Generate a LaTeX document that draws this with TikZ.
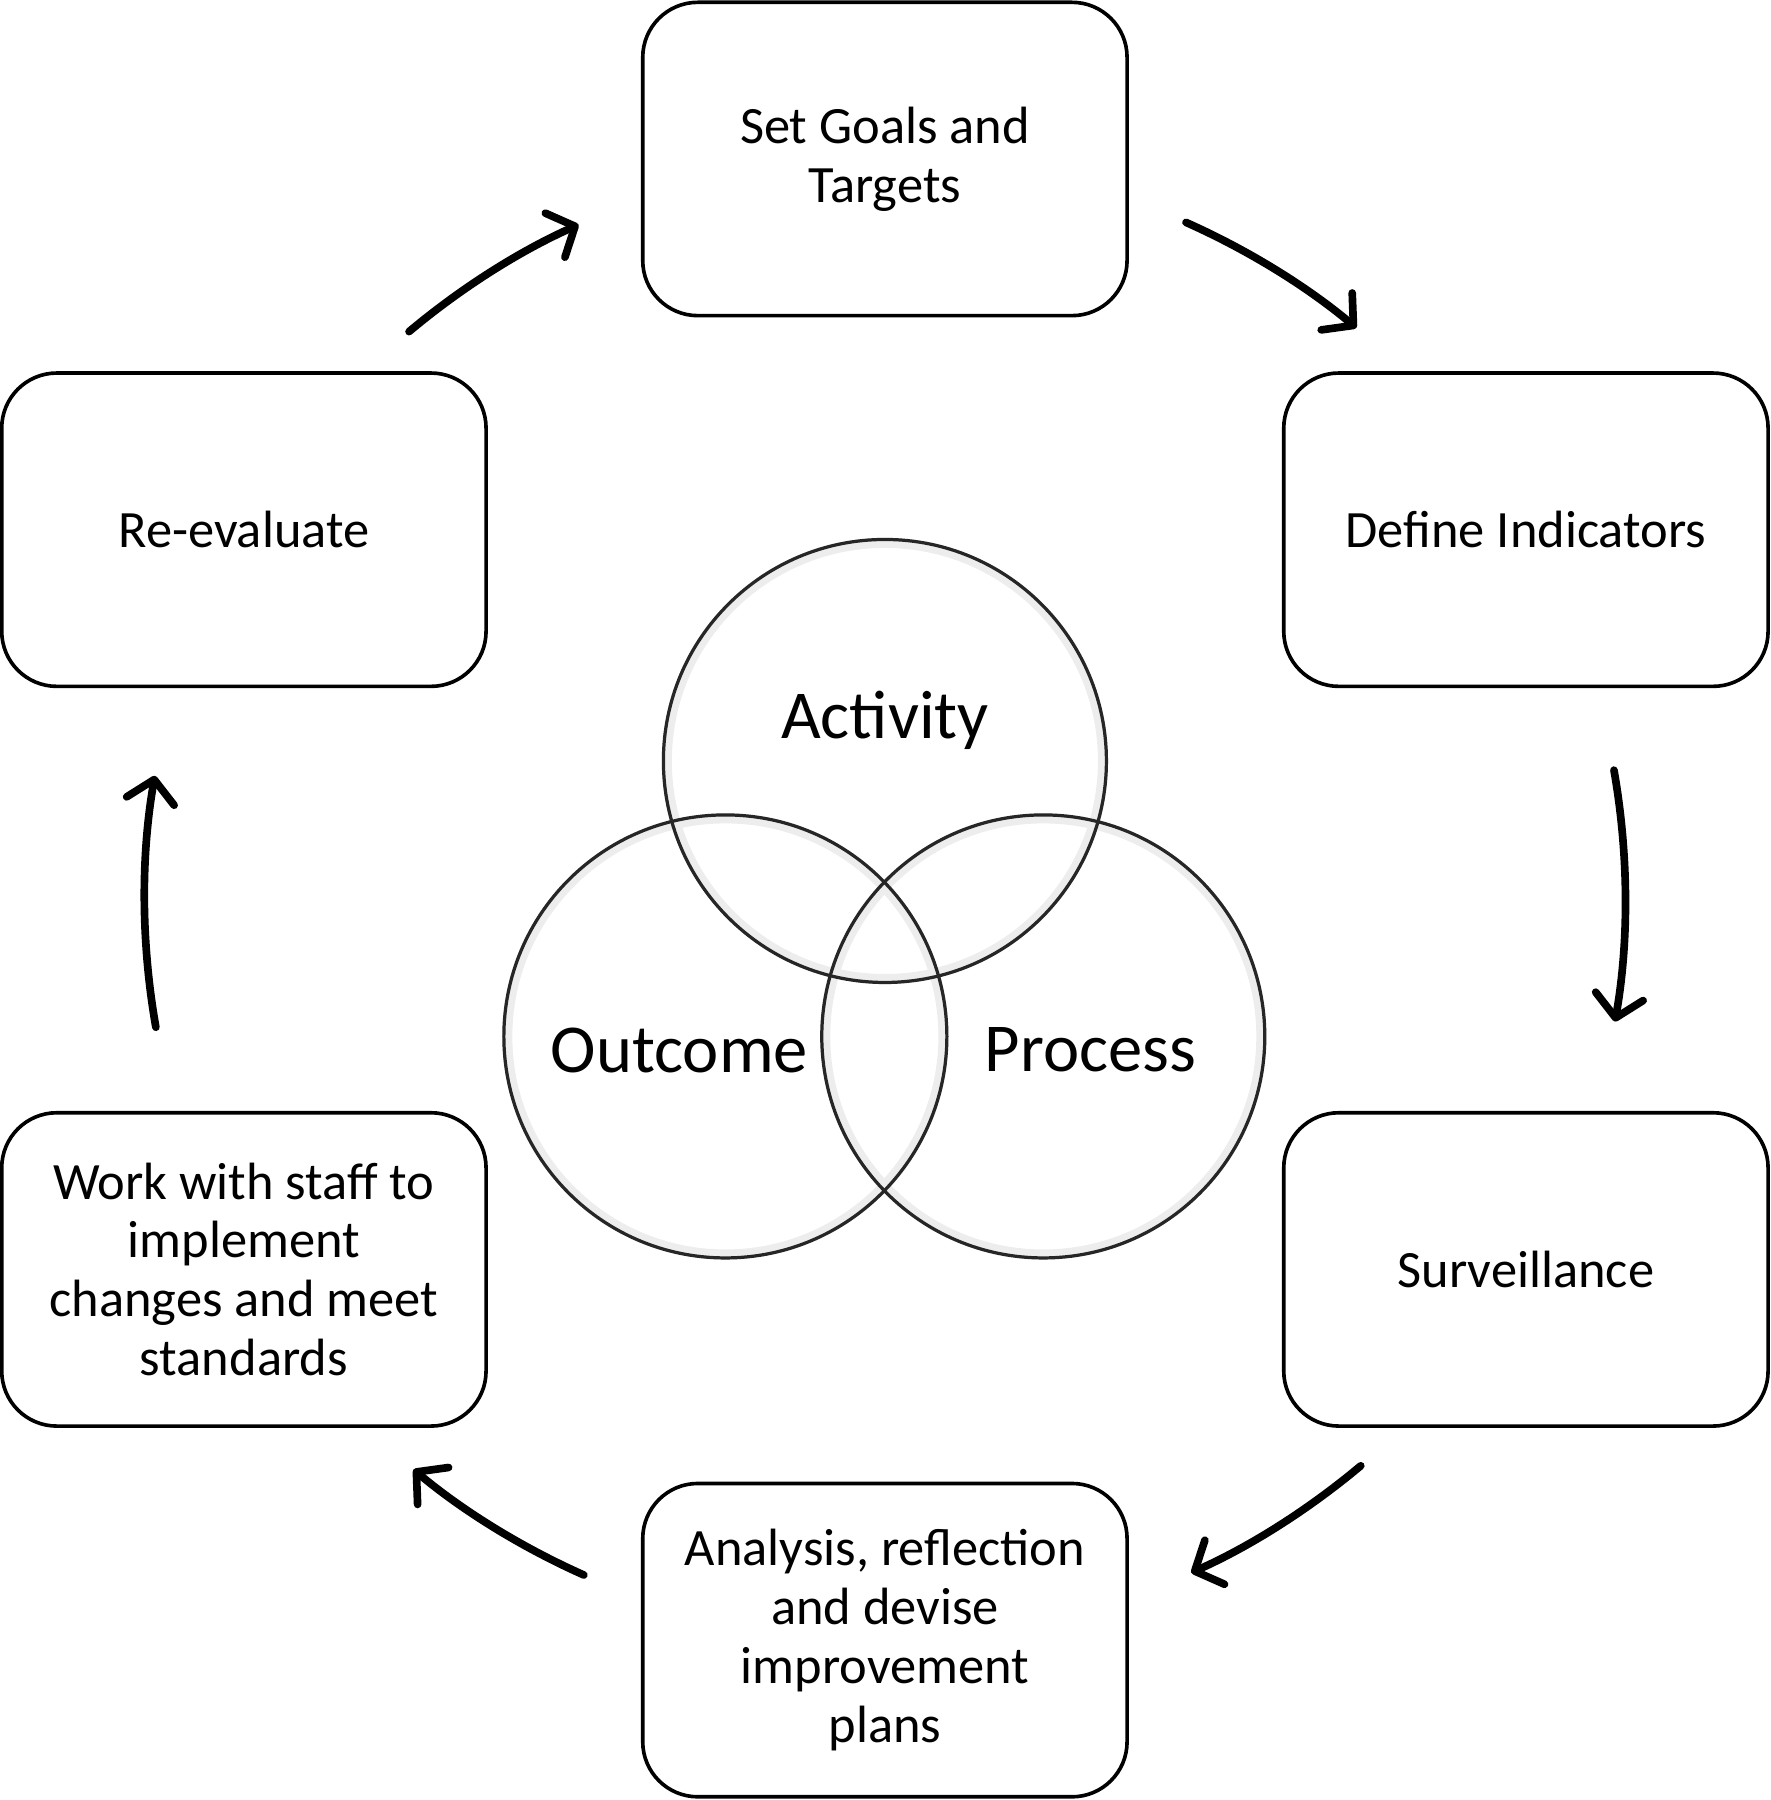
\documentclass[tikz,border=0pt]{standalone}
\usepackage{fontspec}
\setmainfont{Carlito}
\usetikzlibrary{arrows.meta}
\tikzset{
  stagebox/.style={draw,line width=0.9pt,rounded corners=0.48cm,minimum width=4.22cm,minimum height=2.73cm,align=center,inner sep=2pt,font=\fontsize{13}{14.6}\selectfont},
  venn/.style={draw=black!85,line width=0.8pt},
  vennglow/.style={draw=black!7,line width=2.5pt},
  venntext/.style={font=\fontsize{17}{20}\selectfont},
  cyc/.style={-{Straight Barb[round,length=1.9mm,width=4.2mm]},line width=1.9pt,line cap=round,shorten >=0.5mm}
}
\begin{document}
\begin{tikzpicture}
			\useasboundingbox (0,0) rectangle (15.43,-15.683);
			% the six stages
			\node[stagebox] (goals) at (7.71,-1.385) {Set Goals and\\Targets};
			\node[stagebox] (indic) at (13.295,-4.615) {Define Indicators};
			\node[stagebox] (surv) at (13.295,-11.06) {Surveillance};
			\node[stagebox] (anal) at (7.71,-14.29) {Analysis, reflection\\and devise\\improvement\\plans};
			\node[stagebox] (staff) at (2.125,-11.06) {Work with staff to\\implement\\changes and meet\\standards};
			\node[stagebox] (reeval) at (2.125,-4.615) {Re-evaluate};
			% venn in the middle
			\coordinate (act) at (7.71,-6.63);
			\coordinate (out) at (6.32,-9.03);
			\coordinate (pro) at (9.09,-9.03);
			\foreach \c in {act,out,pro} \draw[vennglow] (\c) circle (1.9);
			\foreach \c in {act,out,pro} \draw[venn] (\c) circle (1.93);
			\node[venntext] (actl) at (7.71,-6.28) {Activity};
			\node[venntext] (outl) at (5.92,-9.15) {Outcome};
			\node[venntext] (prol) at (9.50,-9.15) {Process};
			% cycle arrows
			\coordinate (o) at (7.71,-7.83);
			\coordinate (a1) at ([shift={(130:6.45)}]o);
			\coordinate (a2) at ([shift={(66:6.45)}]o);
			\coordinate (a3) at ([shift={(10:6.45)}]o);
			\coordinate (a4) at ([shift={(-50:6.45)}]o);
			\coordinate (a5) at ([shift={(-114:6.45)}]o);
			\coordinate (a6) at ([shift={(190:6.45)}]o);
			\draw[cyc] (a1) arc[start angle=130,end angle=114,radius=6.45];
			\draw[cyc] (a2) arc[start angle=66,end angle=50,radius=6.45];
			\draw[cyc] (a3) arc[start angle=10,end angle=-10,radius=6.45];
			\draw[cyc] (a4) arc[start angle=-50,end angle=-66,radius=6.45];
			\draw[cyc] (a5) arc[start angle=-114,end angle=-130,radius=6.45];
			\draw[cyc] (a6) arc[start angle=190,end angle=170,radius=6.45];
\end{tikzpicture}
\end{document}
